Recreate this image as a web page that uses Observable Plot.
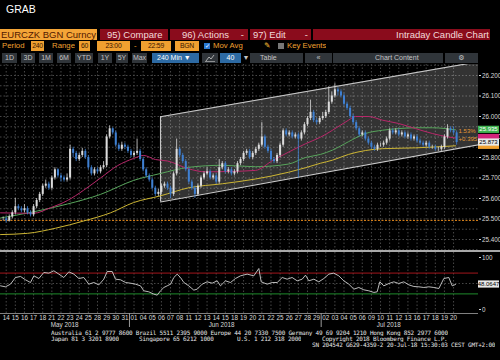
<!DOCTYPE html>
<html><head><meta charset="utf-8">
<script src="https://cdn.jsdelivr.net/npm/d3@7"></script>
<script src="https://cdn.jsdelivr.net/npm/@observablehq/plot@0.6"></script>
<style>
html,body{margin:0;padding:0;background:#000;}
#page{position:relative;width:500px;height:360px;overflow:hidden;background:#000;font-family:"Liberation Sans",Arial,sans-serif;}
.a{position:absolute;white-space:nowrap;box-sizing:border-box;overflow:hidden;}
.r1{top:29px;height:11px;line-height:11px;font-size:9.5px;}
.red{background:#8a0c1c;color:#f2dada;}
.r2{top:41px;height:10px;line-height:10px;font-size:7.8px;color:#f0a030;}
.ob{background:#f0a030;color:#3a1600;text-align:center;font-size:6.8px;letter-spacing:-0.2px;}
.r3{top:53px;height:10px;line-height:10px;font-size:7px;color:#c4c4c4;background:#30353a;text-align:center;}
.bl{background:#2d6aa3;color:#fff;}
.ft{font-family:"DejaVu Sans Mono",monospace;font-size:6px;letter-spacing:-0.22px;color:#e6e6e6;height:6px;line-height:6px;}
</style></head>
<body><div id="page">
<div class="a" style="left:6px;top:3px;font-size:10.5px;color:#fff;">GRAB</div>

<div class="a r1" style="left:0;width:97px;background:#f4a537;color:#521800;padding-left:1px">EURCZK BGN Curncy</div>
<div class="a r1 red" style="left:100px;width:68px;padding-left:7px">95) Compare</div>
<div class="a r1 red" style="left:170px;width:78px;padding-left:12px">96) Actions<span style="position:absolute;right:4px">-</span></div>
<div class="a r1 red" style="left:250px;width:61px;padding-left:3px">97) Edit<span style="position:absolute;right:3px">-</span></div>
<div class="a r1 red" style="left:313px;width:177px;text-align:right;padding-right:1px">Intraday Candle Chart</div>

<div class="a r2" style="left:2px">Period</div>
<div class="a r2 ob" style="left:31px;width:13px">240</div>
<div class="a r2" style="left:52px">Range</div>
<div class="a r2 ob" style="left:79px;width:11px">60</div>
<div class="a r2 ob" style="left:97px;width:33px">23:00</div>
<div class="a r2" style="left:134px">-</div>
<div class="a r2 ob" style="left:141px;width:30px">22:59</div>
<div class="a r2 ob" style="left:175px;width:24px">BGN</div>
<div class="a" style="left:204px;top:43px;width:6px;height:6px;background:#2a78d0;color:#fff;font-size:6px;line-height:6px;text-align:center">✓</div>
<div class="a r2" style="left:213px">Mov Avg</div>
<div class="a r2" style="left:264px;color:#e8b030;font-family:'DejaVu Sans'">✎</div>
<div class="a" style="left:278px;top:43px;width:6px;height:6px;background:#777"></div>
<div class="a r2" style="left:287px">Key Events</div>

<div class="a r3" style="left:2px;width:15px">1D</div>
<div class="a r3" style="left:21px;width:14px">3D</div>
<div class="a r3" style="left:39px;width:14px">1M</div>
<div class="a r3" style="left:57px;width:14px">6M</div>
<div class="a r3" style="left:75px;width:18px">YTD</div>
<div class="a r3" style="left:98px;width:14px">1Y</div>
<div class="a r3" style="left:116px;width:12px">5Y</div>
<div class="a r3" style="left:132px;width:15px">Max</div>
<div class="a r3 bl" style="left:152px;width:47px;text-align:left;padding-left:5px">240 Min ▼</div>
<div class="a r3" style="left:202px;width:16px"><svg width="10" height="8" style="margin-top:1px"><polyline points="1,7 4,3 6,5 9,1" fill="none" stroke="#ccc" stroke-width="0.8"/><line x1="0" y1="7.5" x2="10" y2="7.5" stroke="#ccc" stroke-width="0.6"/></svg></div>
<div class="a r3 bl" style="left:220px;width:21px">40</div>
<div class="a r3" style="left:242px;width:8px;background:#000">▼</div>
<div class="a r3" style="left:250px;width:53px;text-align:left;padding-left:10px">Table</div>
<div class="a r3" style="left:305px;width:27px">«</div>
<div class="a r3" style="left:333px;width:110px;text-align:left;padding-left:42px">Chart Content</div>
<div class="a r3" style="left:445px;width:33px;font-family:'DejaVu Sans'">⚙</div>

<div id="main" class="a" style="left:0;top:64px;width:500px;height:186px;overflow:visible"></div>
<div class="a" style="left:0;top:250px;width:500px;height:2px;background:#a8a8a8"></div>
<div id="rsi" class="a" style="left:0;top:252px;width:500px;height:80px;overflow:visible"></div>

<div class="a ft" style="left:51px;top:330px">Australia 61 2 9777 8600 Brazil 5511 2395 9000 Europe 44 20 7330 7500 Germany 49 69 9204 1210 Hong Kong 852 2977 6000</div>
<div class="a ft" style="left:51px;top:336px">Japan 81 3 3201 8900</div>
<div class="a ft" style="left:139px;top:336px">Singapore 65 6212 1000</div>
<div class="a ft" style="left:237px;top:336px">U.S. 1 212 318 2000</div>
<div class="a ft" style="left:322px;top:336px">Copyright 2018 Bloomberg Finance L.P.</div>
<div class="a ft" style="left:312px;top:341.5px">SN 204542 G629-4359-2 20-Jul-18 15:30:03 CEST GMT+2:00</div>
</div>
<script>
// ---- data ----
const dayLabels = ["14","15","16","17","18","21","22","23","24","25","28","29","30","31","01","04","05","06","07","08","11","12","13","14","15","18","19","20","21","22","25","26","27","28","29","02","03","04","05","06","09","10","11","12","13","16","17","18","19","20"];
const monthLabels = ["May 2018","Jun 2018","Jul 2018"];
const monthPos = [6.4, 23.6, 41.9];
const monthBreaks = [13.5, 34.5];
const priceTicks = [25.4,25.5,25.6,25.7,25.8,25.9,26.0,26.1,26.2];
const gridPrices = [25.35,25.40,25.45,25.50,25.55,25.60,25.65,25.70,25.75,25.80,25.85,25.90,25.95,26.00,26.05,26.10,26.15,26.20,26.25];
const rsiTicks = [0, 100];
const firstOpen = 25.50;
// 8-hour candles (3 per trading day)
const close = [25.50,25.49,25.51,25.53,25.56,25.55,25.54,25.55,25.53,25.52,
 25.56,25.59,25.62,25.66,25.67,25.65,25.70,25.74,25.71,25.70,
 25.69,25.70,25.84,25.82,25.79,25.81,25.83,25.80,25.75,25.72,
 25.74,25.73,25.75,25.76,25.90,25.94,25.92,25.86,25.84,25.86,
 25.85,25.83,25.81,25.82,25.83,25.79,25.74,25.71,25.69,25.65,
 25.62,25.63,25.66,25.67,25.65,25.62,25.72,25.84,25.81,25.78,
 25.74,25.68,25.65,25.62,25.66,25.70,25.72,25.73,25.70,25.71,
 25.68,25.75,25.77,25.73,25.74,25.72,25.73,25.77,25.79,25.82,
 25.83,25.80,25.82,25.84,25.86,25.90,25.85,25.83,25.79,25.78,
 25.81,25.86,25.93,25.91,25.92,25.90,25.91,25.89,25.92,25.96,
 25.99,26.02,25.98,25.97,25.99,26.00,26.02,26.07,26.10,26.13,
 26.12,26.10,26.06,26.04,26.00,25.97,25.94,25.91,25.92,25.89,
 25.87,25.85,25.84,25.86,25.86,25.87,25.89,25.93,25.92,25.93,
 25.91,25.92,25.90,25.91,25.89,25.90,25.88,25.87,25.86,25.87,
 25.85,25.85,25.84,25.84,25.85,25.90,25.94,25.93,25.92,25.873];
const high = [25.51,25.51,25.52,25.54,25.60,25.57,25.56,25.57,25.56,25.54,
 25.57,25.60,25.63,25.67,25.69,25.68,25.71,25.75,25.745,25.72,
 25.71,25.72,25.86,25.85,25.83,25.82,25.845,25.84,25.81,25.76,
 25.75,25.75,25.76,25.78,25.91,25.955,25.945,25.93,25.87,25.875,
 25.87,25.86,25.84,25.83,25.89,25.84,25.80,25.75,25.72,25.70,
 25.66,25.645,25.67,25.68,25.68,25.66,25.73,25.89,25.85,25.82,
 25.79,25.75,25.69,25.66,25.67,25.71,25.73,25.75,25.74,25.72,
 25.72,25.79,25.78,25.78,25.75,25.75,25.74,25.78,25.80,25.83,
 25.84,25.84,25.83,25.85,25.87,25.97,25.91,25.86,25.84,25.80,
 25.82,25.87,25.94,25.94,25.93,25.93,25.92,25.92,25.93,25.97,
 26.00,26.08,26.03,25.99,26.00,26.02,26.03,26.145,26.12,26.16,
 26.14,26.13,26.11,26.07,26.05,26.01,25.98,25.95,25.93,25.93,
 25.90,25.88,25.86,25.87,25.87,25.88,25.90,25.94,25.94,25.94,
 25.94,25.93,25.93,25.92,25.92,25.91,25.91,25.89,25.88,25.88,
 25.88,25.86,25.86,25.85,25.86,25.91,25.96,25.95,25.95,25.93];
const low = [25.49,25.48,25.485,25.50,25.52,25.54,25.53,25.53,25.52,25.51,
 25.51,25.55,25.58,25.61,25.65,25.64,25.64,25.69,25.70,25.68,
 25.68,25.68,25.69,25.80,25.78,25.78,25.80,25.79,25.74,25.71,
 25.71,25.72,25.72,25.74,25.75,25.89,25.91,25.85,25.83,25.83,
 25.84,25.82,25.80,25.80,25.81,25.78,25.73,25.70,25.68,25.64,
 25.61,25.61,25.62,25.65,25.64,25.60,25.61,25.71,25.80,25.77,
 25.73,25.67,25.64,25.60,25.61,25.65,25.69,25.71,25.69,25.69,
 25.67,25.67,25.74,25.72,25.72,25.71,25.71,25.72,25.76,25.78,
 25.81,25.79,25.79,25.81,25.83,25.85,25.84,25.82,25.78,25.77,
 25.77,25.80,25.85,25.90,25.90,25.89,25.89,25.70,25.88,25.91,
 25.95,25.98,25.97,25.96,25.96,25.98,25.99,26.01,26.06,26.09,
 26.10,26.09,26.05,26.03,25.99,25.96,25.93,25.90,25.90,25.88,
 25.86,25.84,25.83,25.83,25.85,25.85,25.86,25.88,25.91,25.91,
 25.90,25.90,25.89,25.89,25.88,25.88,25.87,25.86,25.85,25.85,
 25.84,25.84,25.83,25.83,25.83,25.84,25.89,25.92,25.91,25.86];
// moving averages (read at day positions)
const maPinkDay = [-0.62,2.99,4.85,6.71,8.47,10.33,12.19,13.94,15.04,16.35,17.67,19.97,21.83,24.57,27.30,29.17,30.92,32.78,34.42,35.74,37.49,38.26,39.68,41.22,42.97,44.83,46.69,48.44,49.21];
const maPinkVal = [25.530,25.528,25.555,25.590,25.640,25.700,25.760,25.795,25.810,25.790,25.783,25.745,25.730,25.732,25.737,25.785,25.826,25.867,25.899,25.933,25.982,26.000,26.000,25.982,25.966,25.941,25.917,25.900,25.895];
const maGreenDay = [-0.62,2.99,6.71,10.33,13.94,16.90,19.97,23.69,27.30,30.92,32.78,34.42,35.74,37.49,39.35,41.22,42.97,44.83,46.69,49.21];
const maGreenVal = [25.505,25.535,25.573,25.620,25.688,25.722,25.752,25.762,25.755,25.768,25.800,25.815,25.836,25.877,25.917,25.933,25.941,25.945,25.945,25.935];
const maYellowDay = [-0.62,2.33,5.40,8.47,11.42,13.94,16.90,19.97,23.69,27.30,30.92,32.78,34.42,35.74,37.49,39.35,41.22,44.83,49.21];
const maYellowVal = [25.424,25.430,25.455,25.490,25.530,25.580,25.613,25.652,25.672,25.695,25.728,25.750,25.772,25.787,25.815,25.834,25.843,25.847,25.857];
const supportLevel = 25.493;
const chanDay = [16.9, 51.73];
const chanLow = [25.583, 25.862];
const chanHigh = [25.999, 26.267];
const rsiDay = [-0.62,-0.08,0.47,1.02,1.57,2.11,2.66,3.03,3.58,4.12,4.67,5.22,5.77,6.31,6.86,7.41,7.96,8.50,9.05,9.60,10.15,10.69,11.06,11.61,11.97,12.52,13.07,13.61,14.16,14.71,15.07,15.62,16.17,16.54,16.90,17.27,17.63,18.00,18.36,18.73,19.09,19.46,20.00,20.55,20.92,21.46,22.01,22.56,23.11,23.47,24.02,24.57,25.11,25.66,26.39,27.12,27.67,27.93,28.58,29.13,29.68,30.23,30.77,31.32,31.87,32.42,32.78,33.15,33.70,34.24,34.79,35.34,35.88,36.43,36.98,37.53,38.08,38.62,39.17,39.72,40.27,40.63,40.92,41.36,41.91,42.46,43.00,43.55,44.10,44.65,45.20,45.74,46.29,46.84,47.39,47.93,48.48,48.85,49.21];
const rsiVal = [45.5,43.6,48.7,61.5,63.5,57.1,51.9,64.7,59.6,71.2,
 69.9,74.4,68.0,61.5,72.4,68.0,59.6,61.5,48.7,51.9,
 47.4,58.3,73.1,73.1,58.3,57.1,51.9,50.6,48.7,45.5,
 35.9,34.0,29.5,27.6,35.9,42.3,45.5,48.7,61.5,68.0,
 61.5,51.9,45.5,37.2,39.1,48.7,53.2,50.6,55.1,45.5,
 55.1,51.9,59.6,64.7,68.0,64.7,78.8,53.2,48.7,51.9,
 51.9,61.5,58.3,61.5,55.1,58.3,66.0,55.1,58.3,53.2,
 59.6,68.0,69.9,64.7,55.1,48.7,39.1,42.3,37.8,35.9,
 32.8,34.0,53.2,45.5,50.0,53.2,50.0,53.2,47.4,44.2,
 43.6,42.3,43.6,42.3,40.4,59.6,61.5,45.5,48.0647];
const pctLabel = "1.53%";
const chgLabel = "+0.395";
const lastCloseLabel = "25.873";

// ---- layout ----
const W = 500, MR = 22;
const xDomain = [-0.624, 51.73];
const yDomain = [25.3463, 26.2537];
const rsiDomain = [-7.7, 109.6];
const barsPerDay = 3;
const UP = "#dcdcdc", DOWN = "#3f80d2", GRID = "#484848";

const dayIdx = dayLabels.map((d, i) => i);
const candles = close.map((c, t) => ({
  x: Math.floor(t / barsPerDay) + ((t % barsPerDay) + 0.5) / barsPerDay - 0.5,
  o: t ? close[t - 1] : firstOpen, c, h: high[t], l: low[t]
}));
const up = candles.filter(d => d.c >= d.o), down = candles.filter(d => d.c < d.o);
const channel = chanDay.map((d, i) => ({d, lo: chanLow[i], hi: chanHigh[i]}));
const ma = (days, vals) => days.map((d, i) => ({d, v: vals[i]}));
const last = candles[candles.length - 1];
const style = {background: "transparent", color: "#d8d8d8", fontFamily: "Liberation Sans, Arial, sans-serif", fontSize: "6.3px", overflow: "visible"};

const main = Plot.plot({
  width: W, height: 186, marginTop: 0, marginBottom: 0, marginLeft: 0, marginRight: MR,
  x: {domain: xDomain, axis: null},
  y: {domain: yDomain},
  style,
  marks: [
    Plot.gridY(gridPrices, {stroke: GRID, strokeOpacity: 1, strokeDasharray: "1.5,2"}),
    Plot.gridX(dayIdx, {stroke: GRID, strokeOpacity: 1, strokeDasharray: "1.5,2"}),
    Plot.areaY(channel, {x: "d", y1: "lo", y2: "hi", fill: "#ffffff", fillOpacity: 0.2, clip: true}),
    Plot.line(channel, {x: "d", y: "lo", stroke: "#c8c8c8", strokeWidth: 1.1, clip: true}),
    Plot.line(channel, {x: "d", y: "hi", stroke: "#c8c8c8", strokeWidth: 1.1, clip: true}),
    Plot.ruleX(channel.slice(0, 1), {x: "d", y1: "lo", y2: "hi", stroke: "#c8c8c8", strokeWidth: 1.1}),
    Plot.ruleY([supportLevel], {stroke: "#e0861c", strokeDasharray: "2,1.5", strokeWidth: 1}),
    Plot.line(ma(maYellowDay, maYellowVal), {x: "d", y: "v", stroke: "#cdb634", strokeWidth: 1, curve: "monotone-x"}),
    Plot.line(ma(maGreenDay, maGreenVal), {x: "d", y: "v", stroke: "#58a55c", strokeWidth: 1, curve: "monotone-x"}),
    Plot.line(ma(maPinkDay, maPinkVal), {x: "d", y: "v", stroke: "#b8276a", strokeWidth: 1, curve: "monotone-x"}),
    Plot.ruleX(up, {x: "x", y1: "l", y2: "h", stroke: UP, strokeWidth: 0.8}),
    Plot.ruleX(down, {x: "x", y1: "l", y2: "h", stroke: DOWN, strokeWidth: 0.8}),
    Plot.ruleX(up, {x: "x", y1: "o", y2: "c", stroke: UP, strokeWidth: 2}),
    Plot.ruleX(down, {x: "x", y1: "o", y2: "c", stroke: DOWN, strokeWidth: 2}),
    Plot.text([pctLabel], {x: last.x, y: last.c, text: d => d, dx: 2, dy: -11, textAnchor: "start", fill: "#e59a35", fontSize: 6}),
    Plot.text([chgLabel], {x: last.x, y: last.c, text: d => d, dx: 2, dy: -3.5, textAnchor: "start", fill: "#e59a35", fontSize: 6}),
    Plot.axisY(priceTicks, {anchor: "right", tickFormat: d3.format(".3f"), tickSize: 2, tickPadding: 1.5, fontSize: 6.3, label: null})
  ]
});
document.getElementById("main").appendChild(main);

function tag(svg, yScale, value, fill, text, color) {
  const y = yScale.apply(value);
  const g = d3.select(svg).append("g");
  g.append("rect").attr("x", W - MR).attr("y", y - 3.6).attr("width", 21).attr("height", 7.2).attr("fill", fill);
  if (text) g.append("text").attr("x", W - MR + 10.5).attr("y", y).attr("dy", "0.35em")
    .attr("text-anchor", "middle").attr("font-size", 6).attr("fill", color).text(text);
}
const ys = main.scale("y");
tag(main, ys, maYellowVal[maYellowVal.length - 1], "#f0a030", "", "#000");
tag(main, ys, maPinkVal[maPinkVal.length - 1], "#d0247a", "", "#000");
tag(main, ys, maGreenVal[maGreenVal.length - 1], "#3fb450", d3.format(".3f")(maGreenVal[maGreenVal.length - 1]), "#ffffff");
tag(main, ys, last.c, "#e8e8e8", lastCloseLabel, "#000");

const rsi = Plot.plot({
  width: W, height: 80, marginTop: 0, marginBottom: 19, marginLeft: 0, marginRight: MR,
  x: {domain: xDomain},
  y: {domain: rsiDomain},
  style,
  marks: [
    Plot.gridX(dayIdx, {stroke: GRID, strokeOpacity: 1, strokeDasharray: "1.5,2"}),
    Plot.gridY([50], {stroke: GRID, strokeOpacity: 1, strokeDasharray: "1.5,2"}),
    Plot.ruleY([70], {stroke: "#a3161c", strokeWidth: 1}),
    Plot.ruleY([30], {stroke: "#1f8a2c", strokeWidth: 1}),
    Plot.ruleY([rsiDomain[0]], {stroke: "#808080", strokeWidth: 1}),
    Plot.line(rsiDay.map((d, i) => ({d, v: rsiVal[i]})), {x: "d", y: "v", stroke: "#d0d0d0", strokeWidth: 0.9}),
    Plot.axisY(rsiTicks, {anchor: "right", tickSize: 2, tickPadding: 1.5, fontSize: 6.3, label: null}),
    Plot.axisX(dayIdx, {anchor: "bottom", tickSize: 0, tickPadding: 2.5, tickFormat: i => dayLabels[i], fontSize: 6.3, label: null}),
    Plot.axisX(monthPos, {anchor: "bottom", tickSize: 0, tickPadding: 9.5, tickFormat: d => monthLabels[monthPos.indexOf(d)], fontSize: 6.3, label: null}),
    Plot.axisX(monthBreaks, {anchor: "bottom", tickSize: 14, tickFormat: () => "", stroke: "#9a9a9a", label: null})
  ]
});
document.getElementById("rsi").appendChild(rsi);
const rs = rsi.scale("y");
tag(rsi, rs, rsiVal[rsiVal.length - 1], "#e8e8e8", d3.format(".4f")(rsiVal[rsiVal.length - 1]), "#000");
</script>
</body></html>
